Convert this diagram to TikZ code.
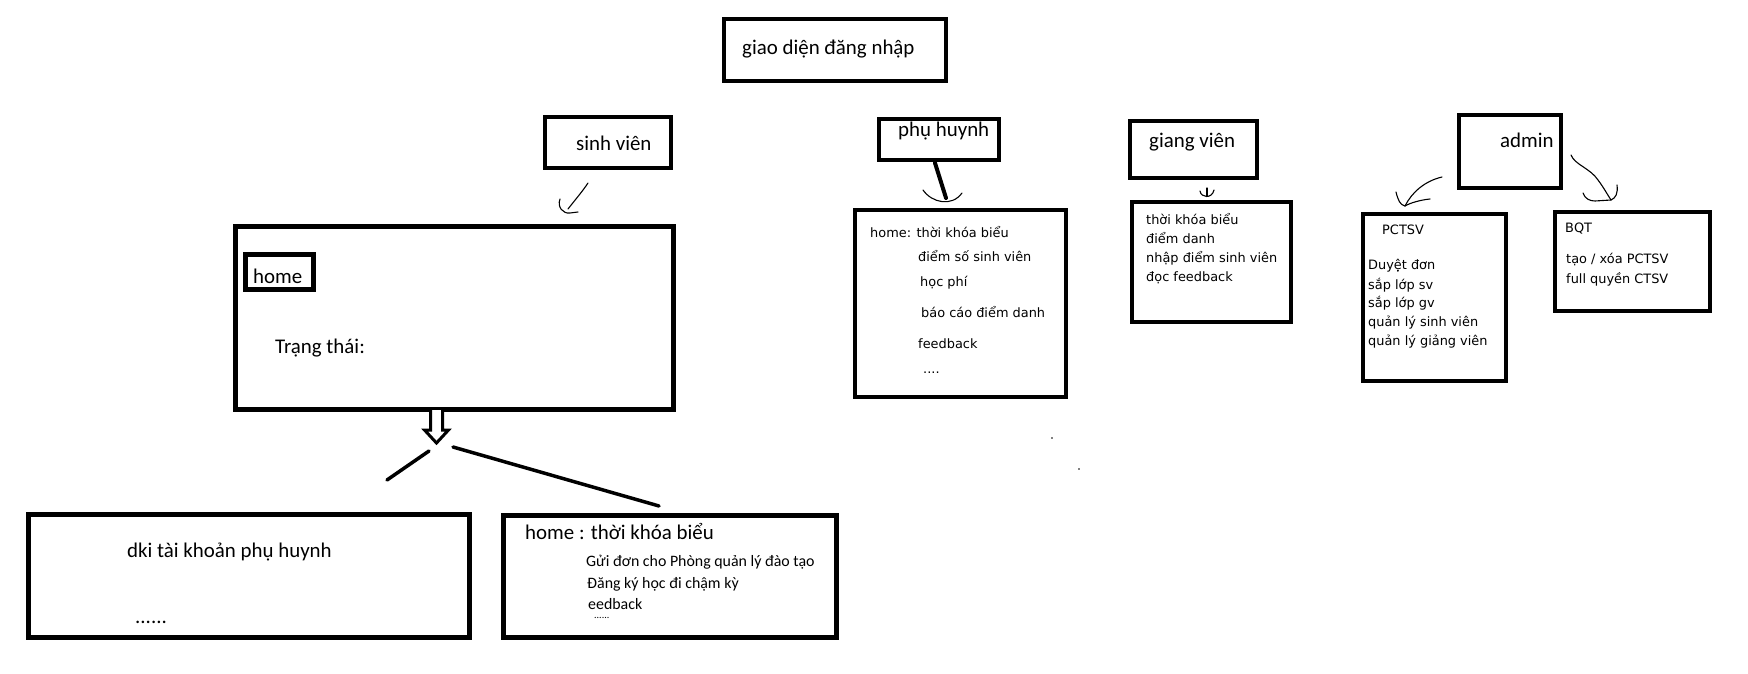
\documentclass[tikz,border=0pt]{standalone}
\usepackage{fontspec}
\setmainfont{Carlito}
\newfontfamily\tah{DejaVu Sans}
\begin{document}
\begin{tikzpicture}[x=1pt,y=-1pt,
  box/.style={draw, line width=4.7pt, inner sep=0pt, outer sep=0pt},
  big/.style={anchor=base west, inner sep=0pt, font=\fontsize{20.9}{24}\selectfont},
  mid/.style={anchor=base west, inner sep=0pt, font=\fontsize{15.9}{18}\selectfont},
  tah/.style={anchor=base west, inner sep=0pt, font=\tah\fontsize{12.9}{15}\selectfont},
  hand/.style={line width=1.1pt, line cap=round, line join=round},
  thick stroke/.style={line width=3.5pt, line cap=round}]
\useasboundingbox (0,0) rectangle (1748,674);
\fill[white] (0,0) rectangle (1748,674);

% boxes
\node[box, minimum width=222pt, minimum height=62pt] (title) at (835,50) {};
\node[box, minimum width=126pt, minimum height=51pt] (sv) at (608,142.5) {};
\node[box, minimum width=120pt, minimum height=41pt] (ph) at (939,139.5) {};
\node[box, minimum width=211pt, minimum height=187pt] (phc) at (960.5,303.5) {};
\node[box, minimum width=127pt, minimum height=57pt] (gv) at (1193.5,149.5) {};
\node[box, minimum width=159pt, minimum height=120pt] (gvc) at (1211.5,262) {};
\node[box, minimum width=102pt, minimum height=73pt] (ad) at (1510,151.5) {};
\node[box, minimum width=143pt, minimum height=167pt] (pctsv) at (1434.5,297.5) {};
\node[box, minimum width=155pt, minimum height=99pt] (bqt) at (1632.5,261.5) {};
\node[box, minimum width=438pt, minimum height=183pt] (svhome) at (454.5,318) {};
\node[box, minimum width=68pt, minimum height=35pt] (homebtn) at (279.5,272) {};
\node[box, minimum width=441pt, minimum height=123pt] (dki) at (249,576) {};
\node[box, minimum width=333pt, minimum height=122pt] (tkb) at (670,576.5) {};

% texts
\node[big] (tTitle) at (742,55) {giao diện đăng nhập};
\node[big] (tSv) at (576,150) {sinh viên};
\node[big] (tPh) at (898,137) {phụ huynh};
\node[big] (tGv) at (1149,147) {giang viên};
\node[big] (tAd) at (1500,147) {admin};
\node[big] (tHome) at (253,283) {home};
\node[big] (tTT) at (275,353) {Trạng thái:};
\node[big] (tDki) at (127,557) {dki tài khoản phụ huynh};
\node[big] (tDots1) at (135,623) {......};
\node[big] (tTkb) at (525,539) {home : thời khóa biểu};
\node[mid] (tTkb1) at (586,566) {Gửi đơn cho Phòng quản lý đào tạo};
\node[mid] (tTkb2) at (587,588) {Đăng ký học đi chậm kỳ};
\node[mid] (tTkb3) at (588,609) {eedback};
\node[anchor=base west, inner sep=0pt, font=\fontsize{10}{12}\selectfont] (tTkb4) at (594,618) {......};

\node[tah] (p1) at (870,237) {home: thời khóa biểu};
\node[tah] (p2) at (918,261) {điểm số sinh viên};
\node[tah] (p3) at (920,286) {học phí};
\node[tah] (p4) at (921,317) {báo cáo điểm danh};
\node[tah] (p5) at (918,348) {feedback};
\node[tah] (p6) at (923,373) {....};

\node[tah] (g1) at (1146,224) {thời khóa biểu};
\node[tah] (g2) at (1146,243) {điểm danh};
\node[tah] (g3) at (1146,262) {nhập điểm sinh viên};
\node[tah] (g4) at (1146,281) {đọc feedback};

\node[tah] (a0) at (1382,234) {PCTSV};
\node[tah] (a1) at (1368,269) {Duyệt đơn};
\node[tah] (a2) at (1368,289) {sắp lớp sv};
\node[tah] (a3) at (1368,307) {sắp lớp gv};
\node[tah] (a4) at (1368,326) {quản lý sinh viên};
\node[tah] (a5) at (1368,345) {quản lý giảng viên};

\node[tah] (b0) at (1565,232) {BQT};
\node[tah] (b1) at (1566,263) {tạo / xóa PCTSV};
\node[tah] (b2) at (1566,283) {full quyền CTSV};

% hand-drawn connectors
\coordinate (svA) at (588,183);
\coordinate (svB) at (568,209);
\coordinate (svH1) at (560,199);
\coordinate (svH2) at (578,212);
\draw[hand] (svA) .. controls (582,192) and (575,200) .. (svB);
\draw[hand] (svH1) .. controls (557,207) and (563,214) .. (570,213) -- (svH2);

\coordinate (phA) at (935,163);
\coordinate (phB) at (946,198);
\draw[line width=4pt, line cap=round] (phA) -- (phB);
\coordinate (phL) at (923,190);
\coordinate (phR) at (962,193);
\draw[hand] (phL) .. controls (932,203) and (952,207) .. (phR);

\coordinate (gvA) at (1207,188);
\coordinate (gvB) at (1207,196);
\coordinate (gvL) at (1200,191);
\coordinate (gvR) at (1214,190);
\draw[hand] (gvA) -- (gvB);
\draw[hand] (gvL) .. controls (1201,198) and (1212,199) .. (gvR);

\coordinate (adL) at (1442,177);
\coordinate (adLt) at (1405,206);
\coordinate (adLh1) at (1396,192);
\coordinate (adLh2) at (1430,199);
\draw[hand] (adL) .. controls (1425,181) and (1412,192) .. (adLt);
\draw[hand] (adLh1) .. controls (1398,200) and (1400,205) .. (adLt);
\draw[hand] (adLh2) .. controls (1420,200) and (1410,203) .. (adLt);

\coordinate (adR) at (1571,155);
\coordinate (adRt) at (1611,200);
\coordinate (adRh1) at (1617,185);
\coordinate (adRh2) at (1583,193);
\draw[hand] (adR) .. controls (1575,165) and (1590,168) .. (1598,180) .. controls (1604,188) and (1607,194) .. (adRt);
\draw[hand] (adRh1) .. controls (1618,193) and (1616,198) .. (adRt);
\draw[hand] (adRh2) .. controls (1585,199) and (1590,201) .. (1595,201) -- (adRt);

% hollow arrow below student home
\draw[line width=3pt, line join=miter, fill=white]
  (430.5,410) -- (430.5,430) -- (424.5,430) -- (436.5,443) -- (448.5,430) -- (442.5,430) -- (442.5,410);

\coordinate (brL1) at (429,451);
\coordinate (brL2) at (387,480);
\coordinate (brR1) at (453,447);
\coordinate (brR2) at (659,506);
\draw[thick stroke] (brL1) -- (brL2);
\draw[thick stroke] (brR1) -- (brR2);

% stray dots
\fill (1052,438) circle (0.9pt);
\fill (1079,469) circle (0.9pt);
\end{tikzpicture}
\end{document}
